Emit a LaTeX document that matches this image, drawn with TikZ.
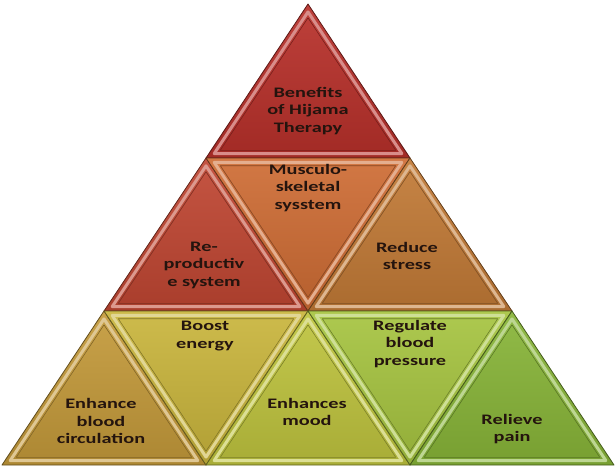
\documentclass[tikz,border=0pt]{standalone}
\usepackage{fontspec}
\setsansfont{Carlito}[FakeStretch=1.4]
\usepackage{tikz}
\usetikzlibrary{calc}

\definecolor{topred}{HTML}{B8302A}
\definecolor{reprored}{HTML}{C04632}
\definecolor{muscorange}{HTML}{CE6C34}
\definecolor{stressbrown}{HTML}{C27A36}
\definecolor{circochre}{HTML}{C49A3A}
\definecolor{boostyellow}{HTML}{C9B53C}
\definecolor{moodolive}{HTML}{BFC43E}
\definecolor{pressgreen}{HTML}{A6C440}
\definecolor{paingreen}{HTML}{88B538}
\definecolor{textdark}{HTML}{24140E}

\tikzset{
  tiletext/.style={font=\sffamily\bfseries\fontsize{14.5}{17.5}\selectfont,
    align=center, text=textdark, inner sep=0pt},
}

% one bevelled triangle: three corners, its incentre, its colour
\newcommand{\tile}[5]{%
  \shade[top color=#5!92!white, bottom color=#5!88!black] (#1) -- (#2) -- (#3) -- cycle;
  \draw[#5!50!black, line width=0.8pt, line join=round] (#1) -- (#2) -- (#3) -- cycle;
  \draw[#5!55!white, line width=3pt, line join=round]
    ($(#4)!0.92!(#1)$) -- ($(#4)!0.92!(#2)$) -- ($(#4)!0.92!(#3)$) -- cycle;
  \draw[#5!65!black, line width=0.6pt, line join=round]
    ($(#4)!0.86!(#1)$) -- ($(#4)!0.86!(#2)$) -- ($(#4)!0.86!(#3)$) -- cycle;
}

\begin{document}
\begin{tikzpicture}[x=1pt, y=-1pt]
            \useasboundingbox (0,0) rectangle (615,468);
            % grid corners of the pyramid
            \coordinate (p00) at (308,4);
            \coordinate (p10) at (206,158);
            \coordinate (p11) at (410,158);
            \coordinate (p20) at (104,311);
            \coordinate (p21) at (308,311);
            \coordinate (p22) at (512,311);
            \coordinate (p30) at (2,465);
            \coordinate (p31) at (206,465);
            \coordinate (p32) at (410,465);
            \coordinate (p33) at (614,465);
            % incentres
            \coordinate (i1) at (308,103);
            \coordinate (i2) at (206,256);
            \coordinate (i3) at (308,213);
            \coordinate (i4) at (410,256);
            \coordinate (i5) at (104,410);
            \coordinate (i6) at (206,366);
            \coordinate (i7) at (308,410);
            \coordinate (i8) at (410,366);
            \coordinate (i9) at (512,410);
            \tile{p00}{p10}{p11}{i1}{topred}
            \tile{p10}{p20}{p21}{i2}{reprored}
            \tile{p10}{p11}{p21}{i3}{muscorange}
            \tile{p11}{p21}{p22}{i4}{stressbrown}
            \tile{p20}{p30}{p31}{i5}{circochre}
            \tile{p20}{p21}{p31}{i6}{boostyellow}
            \tile{p21}{p31}{p32}{i7}{moodolive}
            \tile{p21}{p22}{p32}{i8}{pressgreen}
            \tile{p22}{p32}{p33}{i9}{paingreen}
            \node[tiletext] (benefits) at (308,111) {Benefits\\of Hijama\\Therapy};
            \node[tiletext] (musculo) at (308,188) {Musculo-\\skeletal\\sysstem};
            \node[tiletext] (repro) at (204,265) {Re-\\productiv\\e system};
            \node[tiletext] (stress) at (407,256) {Reduce\\stress};
            \node[tiletext] (boost) at (205,336) {Boost\\energy};
            \node[tiletext] (circ) at (101,421) {Enhance\\blood\\circulation};
            \node[tiletext] (mood) at (307,412) {Enhances\\mood};
            \node[tiletext] (pressure) at (410,344) {Regulate\\blood\\pressure};
            \node[tiletext] (pain) at (512,429) {Relieve\\pain};
            \end{tikzpicture}
\end{document}
